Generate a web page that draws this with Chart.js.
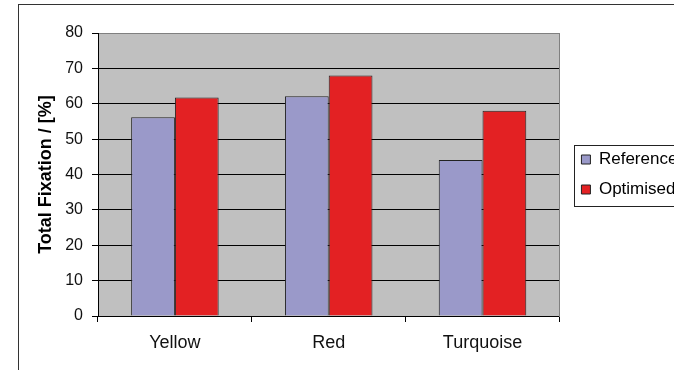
<!DOCTYPE html>
<html>
<head>
<meta charset="utf-8">
<script src="https://cdn.jsdelivr.net/npm/chart.js@4"></script>
<style>
  html, body { margin: 0; padding: 0; background: #fff; overflow: hidden; width: 674px; height: 370px; }
  #frame { position: absolute; left: 18px; top: 4px; width: 720px; height: 420px; border-left: 1px solid #333; border-top: 1px solid #333; }
  #wrap { position: absolute; left: 0; top: 0; width: 760px; height: 370px; }
</style>
</head>
<body>
<div id="frame"></div>
<div id="wrap"><canvas id="myChart" width="760" height="370"></canvas></div>
<script>
// data
var categories = ["Yellow", "Red", "Turquoise"];
var seriesNames = ["Reference", "Optimised"];
var referenceValues = [56.2, 62.1, 44.1];
var optimisedValues = [61.8, 68.0, 58.0];
var yMin = 0;
var yMax = 80;
var yStep = 10;

// grey plot background
var plotBackground = {
	id: 'plotBackground',
	beforeDraw: function (chart) {
		var a = chart.chartArea;
		var ctx = chart.ctx;
		ctx.save();
		ctx.fillStyle = '#c0c0c0';
		ctx.fillRect(a.left, a.top, a.right - a.left, a.bottom - a.top);
		ctx.restore();
	}
};

// box round the legend
var legendFrame = {
	id: 'legendFrame',
	afterDraw: function (chart) {
		var boxes = chart.legend.legendHitBoxes;
		if (!boxes || !boxes.length) return;
		var first = boxes[0];
		var last = boxes[boxes.length - 1];
		var ctx = chart.ctx;
		ctx.save();
		ctx.strokeStyle = '#222';
		ctx.lineWidth = 1;
		ctx.strokeRect(Math.round(first.left - 7) + 0.5, Math.round(first.top - 6) + 0.5, 200, Math.round(last.top + last.height - first.top + 14));
		ctx.restore();
	}
};

var ctx = document.getElementById('myChart').getContext('2d');
var chart = new Chart(ctx, {
	type: 'bar',
	data: {
		labels: categories,
		datasets: [{
			label: seriesNames[0],
			backgroundColor: '#9a99c9',
			borderColor: '#222',
			borderWidth: 1,
			data: referenceValues
		}, {
			label: seriesNames[1],
			backgroundColor: '#e32123',
			borderColor: '#222',
			borderWidth: 1,
			data: optimisedValues
		}]
	},
	options: {
		responsive: false,
		animation: false,
		layout: { padding: { left: 0, top: 33, right: 60, bottom: 14 } },
		datasets: {
			bar: { categoryPercentage: 0.569, barPercentage: 1.0 }
		},
		plugins: {
			tooltip: { enabled: false },
			legend: {
				position: 'right',
				fullSize: false,
				labels: {
					boxWidth: 9,
					boxHeight: 9,
					padding: 13,
					color: '#000',
					font: { family: 'Liberation Sans, Arial, sans-serif', size: 17 }
				}
			}
		},
		scales: {
			x: {
				offset: true,
				grid: { display: true, drawOnChartArea: false, drawTicks: true, tickLength: 6, tickColor: '#000' },
				border: { display: true, color: '#000', width: 1 },
				ticks: {
					color: '#111',
					padding: 10,
					font: { family: 'Liberation Sans, Arial, sans-serif', size: 18 }
				},
				afterFit: function (scale) { scale.height = 40; }
			},
			y: {
				min: yMin,
				max: yMax,
				ticks: {
					stepSize: yStep,
					color: '#111',
					padding: 9,
					font: { family: 'Liberation Sans, Arial, sans-serif', size: 16 }
				},
				grid: {
					color: function (c) { return c.tick && c.tick.value === yMax ? '#808080' : '#000'; },
					tickColor: '#000',
					tickLength: 6,
					lineWidth: 1
				},
				border: { display: true, color: '#000', width: 1 },
				title: {
					display: true,
					text: 'Total Fixation / [%]',
					color: '#000',
					padding: { top: 35, bottom: 0 },
					font: { family: 'Liberation Sans, Arial, sans-serif', size: 18, weight: 'bold' }
				},
				afterFit: function (scale) { scale.width = 98; }
			},
			y2: {
				position: 'right',
				min: yMin,
				max: yMax,
				ticks: { display: false },
				grid: { drawOnChartArea: false, drawTicks: false },
				border: { display: true, color: '#808080', width: 1 },
				afterFit: function (scale) { scale.width = 9; }
			}
		}
	},
	plugins: [plotBackground, legendFrame]
});

// plot area should end at x = 559: nudge the right padding until it does
for (var i = 0; i < 3; i++) {
	var diff = chart.chartArea.right - 559;
	if (Math.abs(diff) < 0.5) break;
	chart.options.layout.padding.right = chart.options.layout.padding.right + diff;
	chart.update();
}
</script>
</body>
</html>
